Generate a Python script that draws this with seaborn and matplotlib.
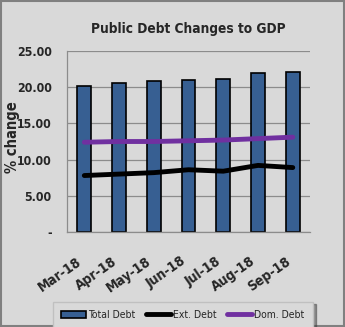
import matplotlib
matplotlib.use("Agg")
import matplotlib.pyplot as plt
import seaborn as sns
import pandas as pd
from matplotlib.lines import Line2D
from matplotlib.patches import Patch

months = ["Mar-18", "Apr-18", "May-18", "Jun-18", "Jul-18", "Aug-18", "Sep-18"]
total_debt = [20.2, 20.6, 20.8, 21.0, 21.2, 21.9, 22.1]
ext_debt = [7.8, 8.0, 8.2, 8.6, 8.4, 9.2, 8.9]
dom_debt = [12.4, 12.5, 12.5, 12.6, 12.7, 12.9, 13.1]
yticks = [0, 5, 10, 15, 20, 25]
ytick_labels = ["-", "5.00", "10.00", "15.00", "20.00", "25.00"]

sns.set_style("white")
plt.rcParams['font.family'] = ['DejaVu Sans']
plt.rcParams['font.stretch'] = 'condensed'

df = pd.DataFrame({"month": months, "total": total_debt, "ext": ext_debt, "dom": dom_debt})

bg = "#d9d9d9"
fig = plt.figure(figsize=(3.45, 3.27), dpi=100, facecolor=bg)
ax = fig.add_axes([0.194, 0.2905, 0.705, 0.5535])
ax.set_facecolor(bg)

bar_color = "#375f92"
sns.barplot(data=df, x="month", y="total", color=bar_color, width=0.4,
            edgecolor="black", linewidth=1.2, saturation=1, ax=ax, zorder=2)
x = list(range(len(months)))
sns.lineplot(x=x, y=ext_debt, color="black", linewidth=3.5, ax=ax, zorder=3)
sns.lineplot(x=x, y=dom_debt, color="#7030a0", linewidth=3.5, ax=ax, zorder=3)

ax.set_xlim(-0.5, 6.5)
ax.set_ylim(0, 25)
ax.set_yticks(yticks)
ax.set_yticklabels(ytick_labels, fontsize=8.8, fontweight="bold", stretch="condensed")
ax.set_xticks(x)
ax.set_xticklabels(months, rotation=35, fontsize=10, fontweight="bold",
                   stretch="condensed", ha="right", va="top")
ax.tick_params(axis="x", length=0, pad=16)
ax.tick_params(axis="y", length=0, pad=11)
ax.yaxis.grid(True, color="#8c8c8c", linewidth=0.9, zorder=0)
ax.set_axisbelow(True)
for s in ["top", "right"]:
    ax.spines[s].set_visible(False)
for s in ["left", "bottom"]:
    ax.spines[s].set_color("#8c8c8c")
    ax.spines[s].set_linewidth(0.9)
ax.set_xlabel("")
ax.set_ylabel("")
fig.text(0.036, 0.58, "% change", rotation=90, ha="center", va="center",
         fontsize=10.5, fontweight="bold", stretch="condensed")

fig.text(0.545, 0.912, "Public Debt Changes to GDP", ha="center", va="center",
         fontsize=9.8, fontweight="bold", stretch="condensed")

handles = [Patch(facecolor=bar_color, edgecolor="black", linewidth=1.2),
           Line2D([0], [0], color="black", linewidth=3.5),
           Line2D([0], [0], color="#7030a0", linewidth=3.5)]
leg = fig.legend(handles, ["Total Debt", "Ext. Debt", "Dom. Debt"], ncol=3,
                 loc="lower center", bbox_to_anchor=(0.53, -0.02), frameon=True,
                 prop=dict(size=7.5, stretch="condensed"), handlelength=2.4,
                 handletextpad=0.2, columnspacing=1.0, fancybox=False, shadow=True,
                 borderpad=0.8)
leg.get_frame().set_facecolor(bg)
leg.get_frame().set_edgecolor("#c0c0c0")

fig.patches.append(plt.Rectangle((0.002, 0.002), 0.996, 0.996, transform=fig.transFigure,
                                 fill=False, edgecolor="#808080", linewidth=1.5))
fig.savefig("out.png", dpi=100, facecolor=bg)
